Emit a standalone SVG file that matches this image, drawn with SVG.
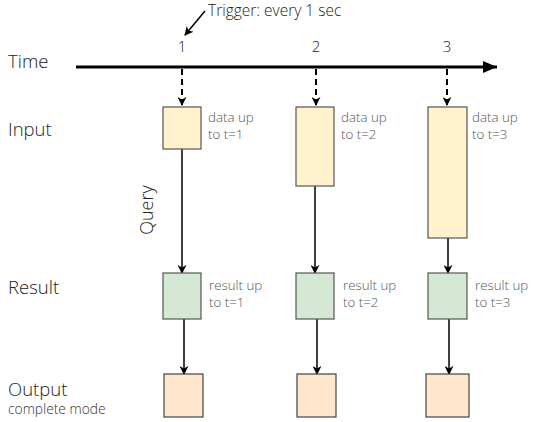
<svg xmlns="http://www.w3.org/2000/svg" width="547" height="422" viewBox="0 0 547 422">
<style>
.row{font-family:"Open Sans","Liberation Sans",sans-serif;font-weight:300;font-size:18.5px;fill:#222}
.lbl{font-family:"Open Sans","Liberation Sans",sans-serif;font-weight:300;font-size:13.3px;fill:#555}
.tick{font-family:"Open Sans","Liberation Sans",sans-serif;font-weight:300;font-size:15px;fill:#222;text-anchor:middle}
.in{fill:#fff2cc;stroke:#555;stroke-width:1.2}
.res{fill:#d5e8d4;stroke:#555;stroke-width:1.2}
.out{fill:#ffe6cc;stroke:#444;stroke-width:1.2}
.conn{stroke:#000;stroke-width:1.5;fill:none}
.dash{stroke:#000;stroke-width:2;fill:none;stroke-dasharray:6 4}
</style>
<defs>
<marker id="ah2" viewBox="0 0 10 10" refX="9" refY="5" markerWidth="9" markerHeight="9" orient="auto" markerUnits="userSpaceOnUse">
<path d="M0,0 L10,5 L0,10 L3,5 z" fill="#000"/>
</marker>
<marker id="big" viewBox="0 0 10 10" refX="10" refY="5" markerWidth="14" markerHeight="12" orient="auto" markerUnits="userSpaceOnUse" preserveAspectRatio="none">
<path d="M0,0 L10,5 L0,10 z" fill="#000"/>
</marker>
</defs>
<g id="labels">
<text class="row" x="8" y="68">Time</text>
<text class="row" x="8" y="136">Input</text>
<text class="row" x="8" y="294">Result</text>
<text class="row" x="8" y="396">Output</text>
<text class="lbl" x="8" y="414" style="font-size:13.8px;fill:#333">complete mode</text>
<text class="tick" x="182" y="52">1</text>
<text class="tick" x="316" y="52">2</text>
<text class="tick" x="447" y="52">3</text>
<text class="row" x="208" y="16" style="font-size:15.5px">Trigger: every 1 sec</text>
<text class="row" transform="translate(153,210) rotate(-90)" text-anchor="middle" style="font-size:18px">Query</text>
</g>
<g id="connectors">
<line x1="76" y1="67" x2="497" y2="67" stroke="#000" stroke-width="3" marker-end="url(#big)"/>
<line x1="205" y1="11" x2="185" y2="35" class="conn" marker-end="url(#ah2)"/>
<line x1="182" y1="69" x2="182" y2="105" class="dash" marker-end="url(#ah2)"/>
<line x1="316" y1="69" x2="316" y2="105" class="dash" marker-end="url(#ah2)"/>
<line x1="447" y1="69" x2="447" y2="105" class="dash" marker-end="url(#ah2)"/>
<line x1="182" y1="149" x2="182" y2="273" class="conn" marker-end="url(#ah2)"/>
<line x1="315" y1="186" x2="315" y2="273" class="conn" marker-end="url(#ah2)"/>
<line x1="448" y1="238" x2="448" y2="273" class="conn" marker-end="url(#ah2)"/>
<line x1="184" y1="319" x2="184" y2="374" class="conn" marker-end="url(#ah2)"/>
<line x1="317" y1="319" x2="317" y2="374" class="conn" marker-end="url(#ah2)"/>
<line x1="449" y1="319" x2="449" y2="374" class="conn" marker-end="url(#ah2)"/>
</g>
<g id="input1"><rect class="in" x="163" y="107" width="38" height="42"/><text class="lbl" x="208" y="122">data up</text><text class="lbl" x="208" y="139">to t=1</text></g>
<g id="input2"><rect class="in" x="296" y="107" width="38" height="79"/><text class="lbl" x="341" y="122">data up</text><text class="lbl" x="341" y="139">to t=2</text></g>
<g id="input3"><rect class="in" x="428" y="107" width="39" height="131"/><text class="lbl" x="472" y="122">data up</text><text class="lbl" x="472" y="139">to t=3</text></g>
<g id="result1"><rect class="res" x="163" y="273" width="38" height="46"/><text class="lbl" x="209" y="290">result up</text><text class="lbl" x="209" y="307">to t=1</text></g>
<g id="result2"><rect class="res" x="296" y="273" width="38" height="46"/><text class="lbl" x="343" y="290">result up</text><text class="lbl" x="343" y="307">to t=2</text></g>
<g id="result3"><rect class="res" x="428" y="273" width="39" height="46"/><text class="lbl" x="475" y="290">result up</text><text class="lbl" x="475" y="307">to t=3</text></g>
<g id="output1"><rect class="out" x="164" y="374" width="39" height="43"/></g>
<g id="output2"><rect class="out" x="297" y="374" width="39" height="43"/></g>
<g id="output3"><rect class="out" x="426" y="374" width="43" height="43"/></g>
</svg>
